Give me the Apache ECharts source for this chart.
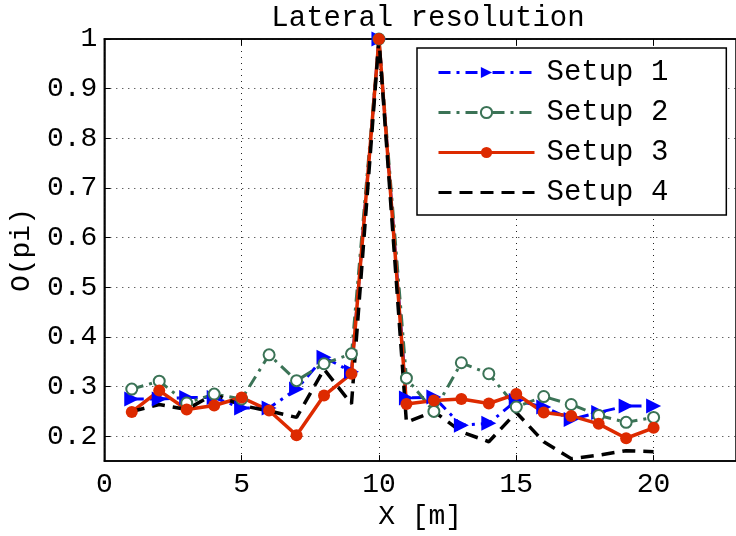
<!DOCTYPE html>
<html>
<head>
<meta charset="utf-8">
<script src="https://cdn.jsdelivr.net/npm/echarts@6/dist/echarts.min.js"></script>
<style>
  html, body { margin: 0; padding: 0; background: #fff; }
  #chart { width: 736px; height: 536px; }
</style>
</head>
<body>
<div id="chart"></div>
<script>
// Sample positions along the lateral axis (metres)
const xPositions = [1, 2, 3, 4, 5, 6, 7, 8, 9, 10, 11, 12, 13, 14, 15, 16, 17, 18, 19, 20];

// Normalised response for each setup
const setup1 = [0.275, 0.275, 0.278, 0.278, 0.257, 0.257, 0.295, 0.359, 0.330, 1.0,
                0.277, 0.279, 0.222, 0.226, 0.272, 0.259, 0.234, 0.248, 0.261, 0.261];
const setup2 = [0.295, 0.311, 0.267, 0.285, 0.275, 0.364, 0.312, 0.346, 0.366, 1.0,
                0.317, 0.250, 0.348, 0.326, 0.259, 0.280, 0.264, 0.242, 0.228, 0.238];
const setup3 = [0.249, 0.292, 0.254, 0.262, 0.278, 0.252, 0.202, 0.282, 0.326, 1.0,
                0.265, 0.272, 0.275, 0.266, 0.285, 0.248, 0.241, 0.225, 0.196, 0.217];
const setup4 = [0.250, 0.264, 0.254, 0.285, 0.262, 0.251, 0.238, 0.335, 0.265, 1.0,
                0.228, 0.250, 0.209, 0.189, 0.248, 0.189, 0.155, 0.162, 0.171, 0.169];

const seriesNames = ['Setup 1', 'Setup 2', 'Setup 3', 'Setup 4'];

// Axis tick values
const xTicks = [0, 5, 10, 15, 20];
const yTicks = [0.2, 0.3, 0.4, 0.5, 0.6, 0.7, 0.8, 0.9, 1];

const FONT = '"Liberation Mono", "DejaVu Sans Mono", monospace';

function pairs(values) {
  return xPositions.map((x, i) => [x, values[i]]);
}

const chart = echarts.init(document.getElementById('chart'), null, { renderer: 'canvas' });

const axisCommon = {
  type: 'value',
  axisLine: { show: true, onZero: false, lineStyle: { color: '#000', width: 1.5 } },
  axisTick: { show: true, inside: true, length: 6, lineStyle: { color: '#000', width: 1 } },
  splitLine: { show: true, lineStyle: { color: '#222', width: 1, type: [1, 5] } },
};

chart.setOption({
  animation: false,
  backgroundColor: '#fff',
  title: {
    text: 'Lateral resolution',
    left: 423,
    top: -1,
    textAlign: 'center',
    textStyle: { fontFamily: FONT, fontSize: 29, fontWeight: 'normal', color: '#000' }
  },
  grid: {
    left: 104, top: 39, width: 639, height: 435,
    show: true, borderColor: '#000', borderWidth: 1.5, backgroundColor: '#fff'
  },
  legend: {
    data: [
      seriesNames[0],
      seriesNames[1],
      seriesNames[2],
      // the dashed setup has no marker, so its key is the line alone
      { name: seriesNames[3], itemStyle: { opacity: 0 } }
    ],
    orient: 'vertical',
    left: 417, top: 48,
    padding: [10, 58, 8, 20],
    itemGap: 11,
    itemWidth: 96,
    itemHeight: 14,
    lineStyle: { width: 3 },
    backgroundColor: '#fff',
    borderColor: '#000',
    borderWidth: 1.5,
    borderRadius: 0,
    textStyle: { fontFamily: FONT, fontSize: 29, color: '#000', lineHeight: 28, padding: [0, 0, 0, 7] }
  },
  xAxis: [
    Object.assign({}, axisCommon, {
      position: 'bottom',
      min: 0, max: 23,
      axisTick: Object.assign({}, axisCommon.axisTick, { customValues: xTicks }),
      axisLabel: { customValues: xTicks, fontFamily: FONT, fontSize: 28, color: '#000', margin: 9 },
      name: 'X [m]',
      nameLocation: 'middle',
      nameGap: 32,
      nameTextStyle: { fontFamily: FONT, fontSize: 28, color: '#000', verticalAlign: 'top' }
    }),
    Object.assign({}, axisCommon, {
      position: 'top',
      min: 0, max: 23,
      axisTick: Object.assign({}, axisCommon.axisTick, { customValues: xTicks }),
      axisLabel: { show: false },
      splitLine: { show: false }
    })
  ],
  yAxis: Object.assign({}, axisCommon, {
    min: 0.15, max: 1,
    axisTick: Object.assign({}, axisCommon.axisTick, { customValues: yTicks }),
    axisLabel: {
      customValues: yTicks,
      fontFamily: FONT, fontSize: 28, color: '#000', margin: 7,
      formatter: v => (v === 1 ? '1' : v.toFixed(1))
    },
    name: 'O(pi)',
    nameLocation: 'middle',
    nameGap: 68,
    nameRotate: 90,
    nameTextStyle: { fontFamily: FONT, fontSize: 28, color: '#000' }
  }),
  series: [
    {
      name: seriesNames[0], type: 'line', data: pairs(setup1),
      symbol: 'triangle', symbolRotate: -90, symbolSize: 15,
      itemStyle: { color: '#0000ff' },
      lineStyle: { color: '#0000ff', width: 3, type: [12, 6, 3, 6] },
      emphasis: { disabled: true }
    },
    {
      name: seriesNames[1], type: 'line', data: pairs(setup2),
      symbol: 'emptyCircle', symbolSize: 11,
      itemStyle: { color: '#3b7356', borderWidth: 3 },
      lineStyle: { color: '#3b7356', width: 3, type: [12, 6, 3, 6] },
      emphasis: { disabled: true }
    },
    {
      name: seriesNames[2], type: 'line', data: pairs(setup3),
      symbol: 'circle', symbolSize: 12,
      itemStyle: { color: '#dd2a00' },
      lineStyle: { color: '#dd2a00', width: 3.5, type: 'solid' },
      emphasis: { disabled: true }
    },
    {
      name: seriesNames[3], type: 'line', data: pairs(setup4),
      symbol: 'none',
      itemStyle: { color: '#000' },
      lineStyle: { color: '#000', width: 3.5, type: [13, 8] },
      emphasis: { disabled: true }
    }
  ]
});
</script>
</body>
</html>
